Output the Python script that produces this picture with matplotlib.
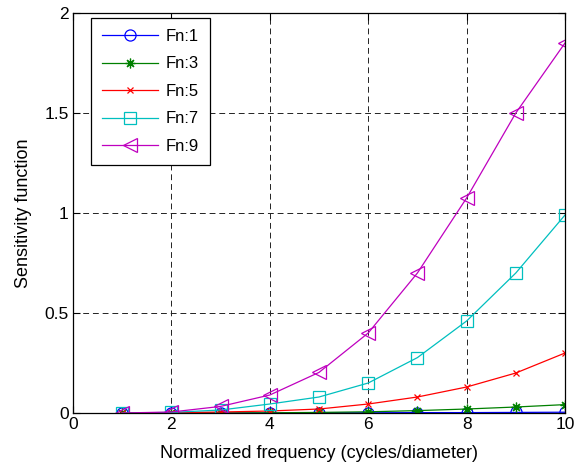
import matplotlib
matplotlib.use("Agg")
import matplotlib.pyplot as plt

plt.rcParams['font.family'] = ['Liberation Sans', 'DejaVu Sans']
plt.rcParams['font.size'] = 12

# normalized frequency points
freq = [1, 2, 3, 4, 5, 6, 7, 8, 9, 10]

# sensitivity values
fn1 = [0, 0, 0, 0, 0.001, 0.001, 0.002, 0.002, 0.003, 0.004]
fn3 = [0, 0, 0, 0.001, 0.003, 0.006, 0.012, 0.02, 0.03, 0.042]
fn5 = [0, 0.001, 0.005, 0.01, 0.02, 0.045, 0.08, 0.13, 0.20, 0.30]
fn7 = [0, 0.003, 0.015, 0.045, 0.08, 0.15, 0.277, 0.46, 0.70, 0.99]
fn9 = [0, 0.005, 0.033, 0.09, 0.203, 0.40, 0.70, 1.075, 1.50, 1.85]

labels = ["Fn:1", "Fn:3", "Fn:5", "Fn:7", "Fn:9"]
series = [fn1, fn3, fn5, fn7, fn9]
colors = ["#0000ff", "#008000", "#ff0000", "#00bfbf", "#bf00bf"]
markers = ["o", (8, 2, 0), "x", "s", "<"]
msizes = [8, 7, 4.5, 8, 10]

fig = plt.figure(figsize=(5.82, 4.68), dpi=100)
ax = fig.add_axes([0.1254, 0.1175, 0.8454, 0.8547])

for y, lab, c, m, ms in zip(series, labels, colors, markers, msizes):
    ax.plot(freq, y, color=c, marker=m, markersize=ms, markerfacecolor="none",
            markeredgecolor=c, markeredgewidth=0.9, linewidth=0.9, label=lab)

ax.set_xlim(0, 10)
ax.set_ylim(0, 2)
ax.set_xticks([0, 2, 4, 6, 8, 10])
ax.set_yticks([0, 0.5, 1, 1.5, 2])
ax.set_yticklabels(["0", "0.5", "1", "1.5", "2"])
ax.tick_params(direction="in", top=True, right=True, length=5, width=0.8,
               labelsize=12.5, pad=3)
ax.grid(True, color="#222222", linestyle=(0, (6, 4)), linewidth=0.7)
for s in ax.spines.values():
    s.set_linewidth(0.9)

ax.set_xlabel("Normalized frequency (cycles/diameter)", fontsize=13, labelpad=9)
ax.set_ylabel("Sensitivity function", fontsize=13, labelpad=9)

leg = ax.legend(loc="upper left", bbox_to_anchor=(0.0366, 0.9875), borderaxespad=0,
                fancybox=False, framealpha=1, edgecolor="black", handlelength=3.4,
                handletextpad=0.45, labelspacing=0.75, borderpad=0.65, fontsize=12)
leg.get_frame().set_linewidth(0.9)

fig.savefig("out.png", dpi=100)
